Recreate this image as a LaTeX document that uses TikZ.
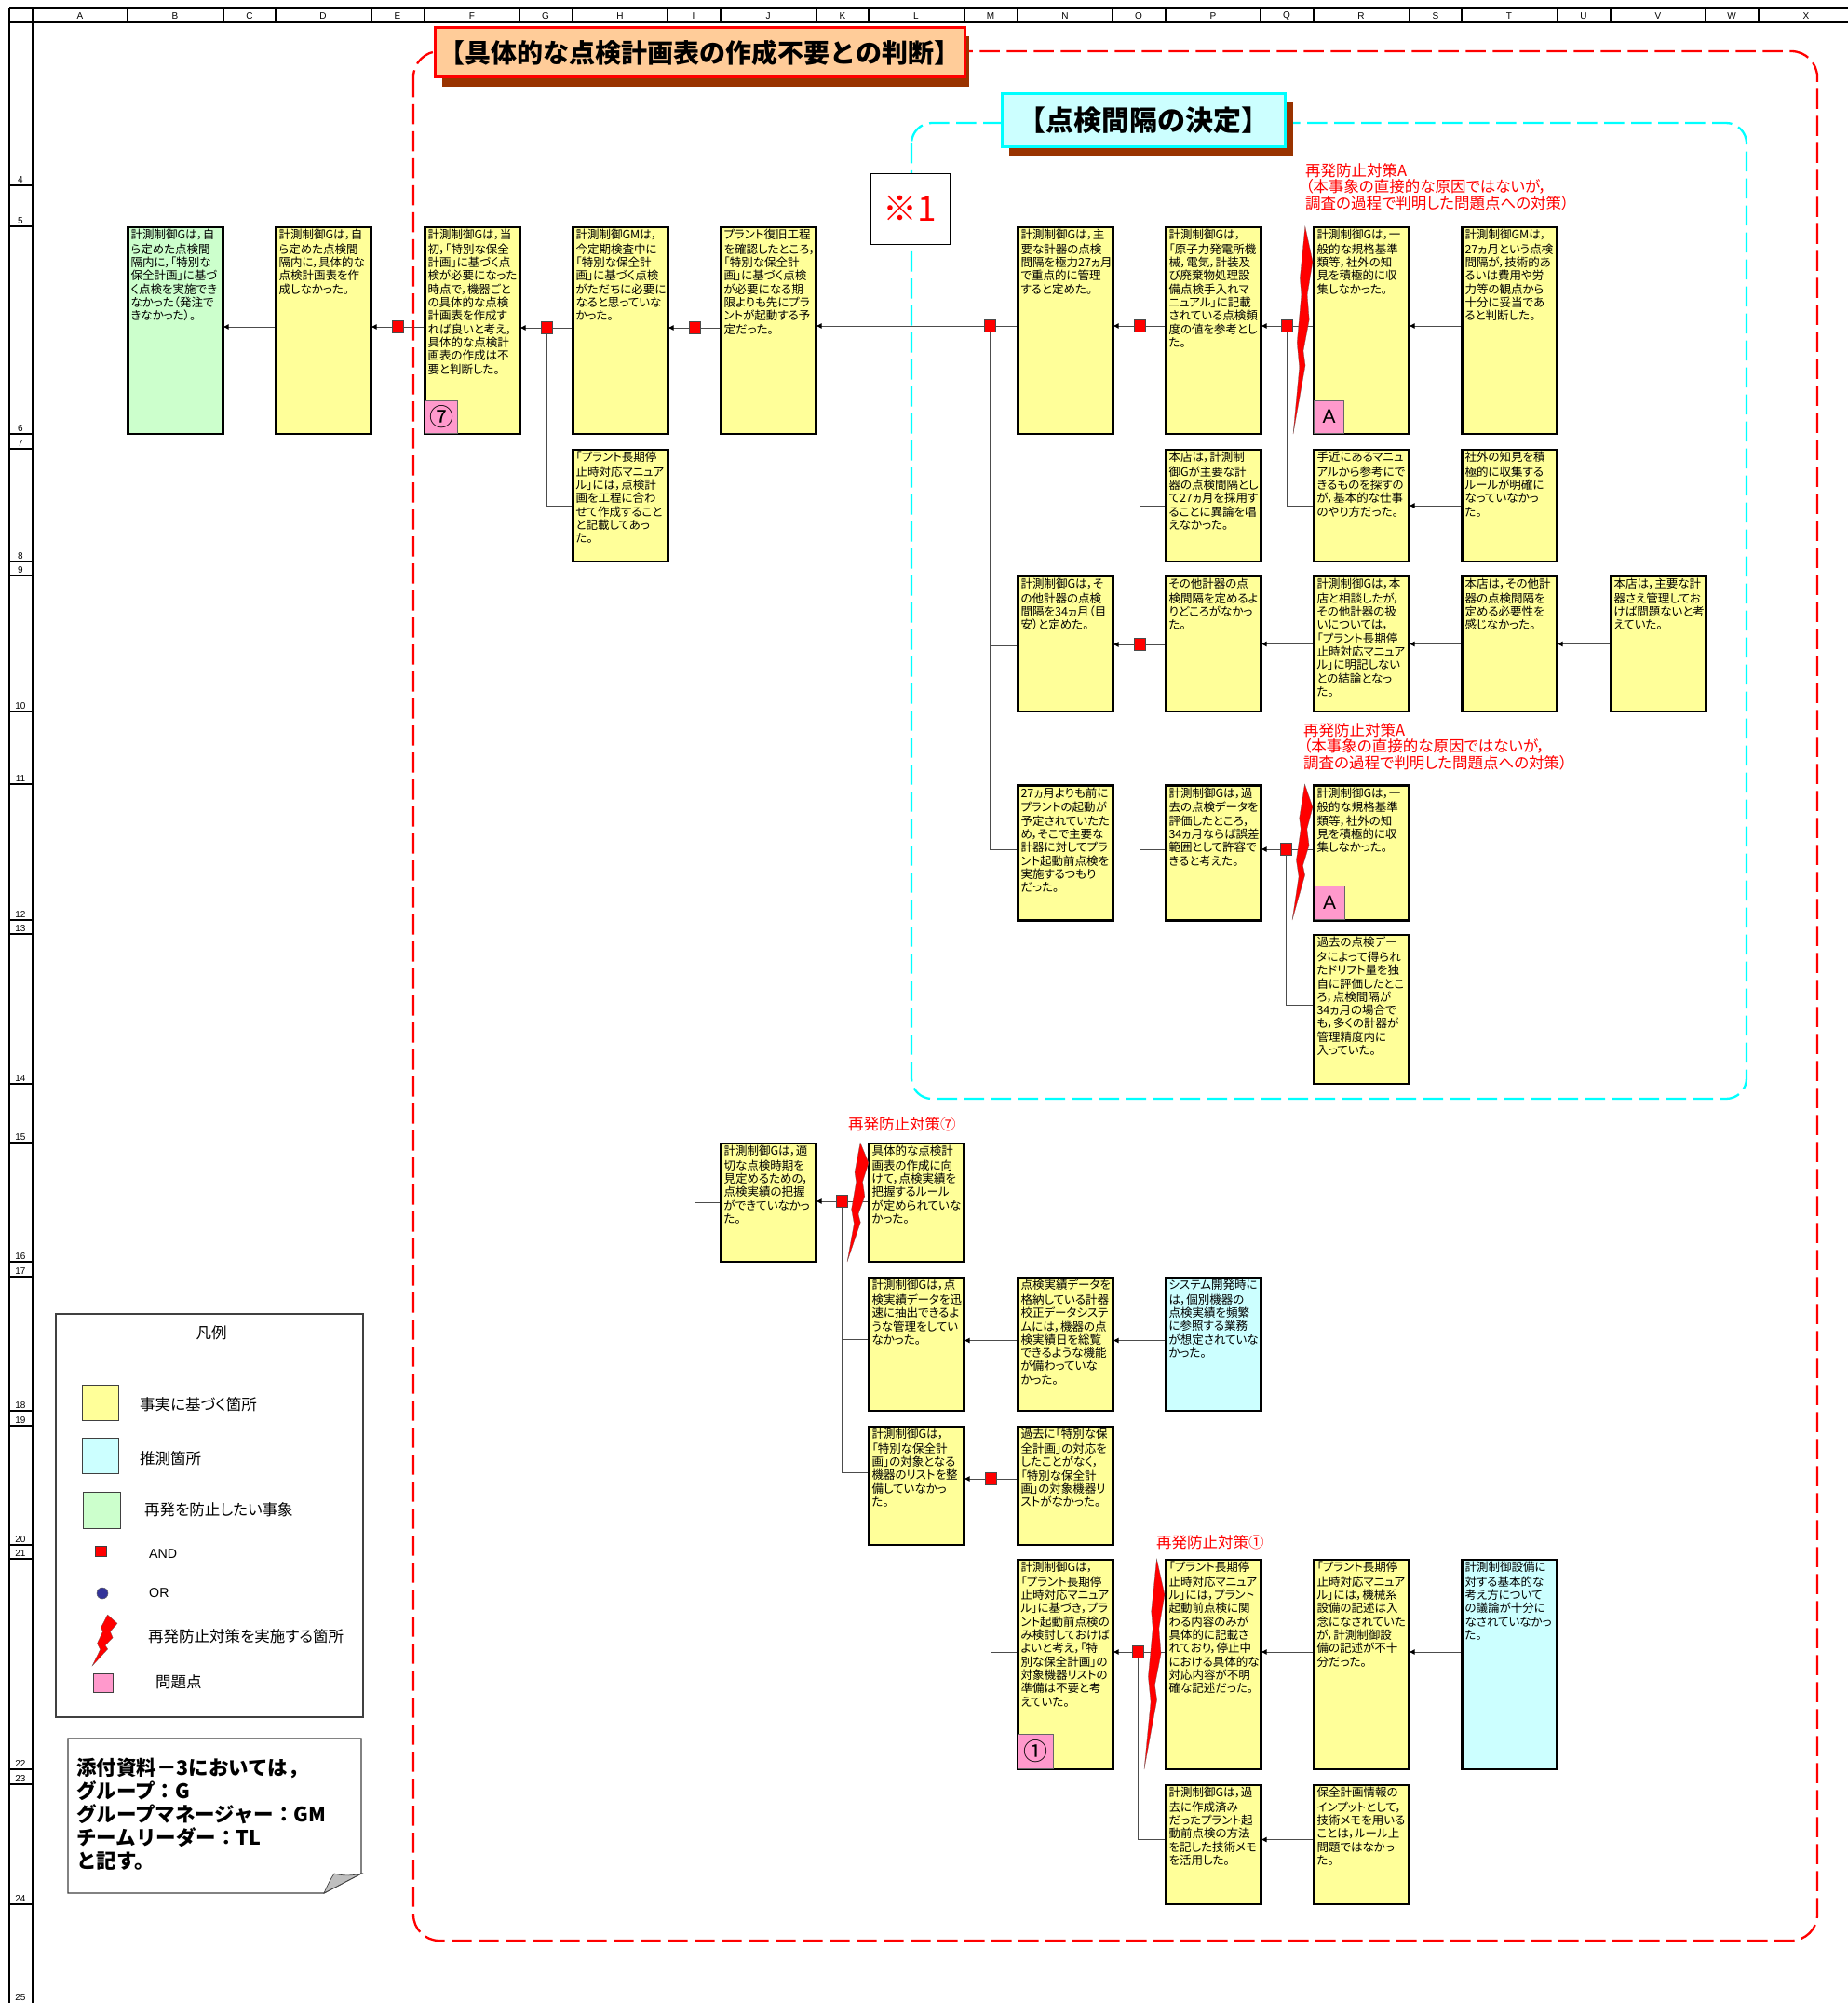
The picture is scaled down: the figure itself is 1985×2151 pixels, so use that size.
\documentclass[tikz,border=0pt]{standalone}
\usepackage{fontspec}
\setmainfont[RawFeature={+palt}]{Noto Sans CJK JP}
\newfontfamily\plainjp{Noto Sans CJK JP}
\newfontfamily\arialfont{Liberation Sans}
\usetikzlibrary{backgrounds,arrows.meta}
\definecolor{fy}{HTML}{FFFF99}
\definecolor{fc}{HTML}{CCFFFF}
\definecolor{fg}{HTML}{CCFFCC}
\definecolor{fp}{HTML}{FF99CC}
\definecolor{fb}{HTML}{993300}
\definecolor{fo}{HTML}{FFCC99}
\definecolor{fn}{HTML}{333399}
\definecolor{pcyan}{HTML}{00FFFF}
\definecolor{pred}{HTML}{FF0000}
\newcommand\bodyfont{\fontsize{12.5}{14.3}\selectfont}
\tikzset{
  boxbase/.style={draw=black,line width=2.2pt,inner xsep=3pt,inner ysep=2pt,outer sep=0pt,anchor=north west,font=\bodyfont},
  fact/.style={boxbase,fill=fy},
  guess/.style={boxbase,fill=fc},
  event/.style={boxbase,fill=fg},
  andgate/.style={draw=black!70,line width=.6pt,fill=pred,minimum width=12pt,minimum height=13pt,inner sep=0pt,outer sep=0pt},
  conn/.style={draw=black!70,line width=1pt},
  arr/.style={conn,-{Latex[length=6pt,width=6pt,black]}},
  badge/.style={draw=black!60,line width=.6pt,fill=fp,inner sep=0pt,outer sep=0pt,anchor=north west},
  bolt/.style={fill=pred,draw=black!60,line width=.25pt,line join=miter},
  note/.style={text=pred,font=\fontsize{16.5}{17.6}\selectfont,align=left,inner sep=0pt,anchor=north west},
  legendtxt/.style={font=\fontsize{16.5}{18}\selectfont,inner sep=0pt,anchor=west},
  gridline/.style={draw=black,line width=1.5pt},
  hdr/.style={font=\arialfont\fontsize{10}{11}\selectfont,inner sep=0pt},
}
\newcommand\bx[6]{\node[#2,minimum width=102pt,minimum height=#5pt+1pt,xshift=-.5pt] (#1) at (#3,#4)
  {\parbox[c][\dimexpr#5pt-3pt\relax][t]{96pt}{\raggedright\strut #6}};}
\newcommand\boltshape[4]{\begin{scope}[shift={(#1,#2)},x=#3pt,y=-#4pt]
  \draw[bolt] (.61,0)--(1,.17)--(.72,.33)--(.82,.45)--(.52,.6)--(.62,.67)--(0,1)--(.32,.68)--(.2,.56)--(.42,.33)--(.35,.25)--cycle;
\end{scope}}
\begin{document}
\begin{tikzpicture}[x=1pt,y=-1pt]
\useasboundingbox (0,0) rectangle (1985,2151);
% grid
\draw[gridline] (10,9)--(1985,9) (10,24)--(1985,24) (10,9)--(10,2151) (35,9)--(35,2151);
\foreach \xa in {137,240,296,399,456,558,615,717,774,877,933,1036,1093,1195,1252,1354,1411,1514,1570,1673,1730,1832,1889}
  \draw[gridline] (\xa,9)--(\xa,24);
\foreach \xa/\la in {86/A,188/B,268/C,347/D,427/E,507/F,586/G,666/H,745/I,825/J,905/K,984/L,1064/M,1144/N,1223/O,1303/P,1382/Q,1462/R,1542/S,1621/T,1701/U,1781/V,1860/W,1940/X}
  \node[hdr] (col\la) at (\xa,17) {\la};
\foreach \ya/\la in {199/4,243/5,466/6,482/7,603/8,618/9,764/10,842/11,988/12,1003/13,1164/14,1227/15,1355/16,1371/17,1515/18,1531/19,1659/20,1674/21,1900/22,1916/23,2045/24}{
  \draw[gridline] (10,\ya)--(35,\ya);
  \node[hdr] (row\la) at (22,\ya-6) {\la};
}
\node[hdr] (row25) at (22,2145) {25};
% titles
\fill[fb] (475,39) rectangle (1041,93);
\node[draw=pred,line width=3pt,fill=fo,inner sep=0pt,outer sep=0pt,minimum width=569pt,minimum height=53pt,anchor=north west,font=\plainjp\bfseries\fontsize{28}{32}\selectfont] (title1) at (467,30) {【具体的な点検計画表の作成不要との判断】};
\fill[fb] (1084,109) rectangle (1389,167);
\node[draw=pcyan,line width=3pt,fill=fc,inner sep=0pt,outer sep=0pt,minimum width=304pt,minimum height=57pt,anchor=north west,font=\plainjp\bfseries\fontsize{30}{34}\selectfont] (title2) at (1076,101) {【点検間隔の決定】};
\node[draw=black,line width=.7pt,fill=white,text=pred,inner sep=0pt,outer sep=0pt,minimum width=85pt,minimum height=76pt,anchor=north west,font=\plainjp\fontsize{37}{40}\selectfont] (mark) at (935,186) {※1};
% boxes row 6
\bx{B6}{event}{138}{244}{221}{計測制御Gは，自\\ら定めた点検間\\隔内に，「特別な\\保全計画」に基づ\\く点検を実施でき\\なかった（発注で\\きなかった）。}
\bx{D6}{fact}{297}{244}{221}{計測制御Gは，自\\ら定めた点検間\\隔内に，具体的な\\点検計画表を作\\成しなかった。}
\bx{F6}{fact}{457}{244}{221}{計測制御Gは，当\\初，「特別な保全\\計画」に基づく点\\検が必要になった\\時点で，機器ごと\\の具体的な点検\\計画表を作成す\\れば良いと考え，\\具体的な点検計\\画表の作成は不\\要と判断した。}
\bx{H6}{fact}{616}{244}{221}{計測制御GMは，\\今定期検査中に\\「特別な保全計\\画」に基づく点検\\がただちに必要に\\なると思っていな\\かった。}
\bx{J6}{fact}{775}{244}{221}{プラント復旧工程\\を確認したところ，\\「特別な保全計\\画」に基づく点検\\が必要になる期\\限よりも先にプラ\\ントが起動する予\\定だった。}
\bx{N6}{fact}{1094}{244}{221}{計測制御Gは，主\\要な計器の点検\\間隔を極力27ヵ月\\で重点的に管理\\すると定めた。}
\bx{P6}{fact}{1253}{244}{221}{計測制御Gは，\\「原子力発電所機\\械，電気，計装及\\び廃棄物処理設\\備点検手入れマ\\ニュアル」に記載\\されている点検頻\\度の値を参考とし\\た。}
\bx{R6}{fact}{1412}{244}{221}{計測制御Gは，一\\般的な規格基準\\類等，社外の知\\見を積極的に収\\集しなかった。}
\bx{T6}{fact}{1571}{244}{221}{計測制御GMは，\\27ヵ月という点検\\間隔が，技術的あ\\るいは費用や労\\力等の観点から\\十分に妥当であ\\ると判断した。}
% row 8
\bx{H8}{fact}{616}{483}{119}{「プラント長期停\\止時対応マニュア\\ル」には，点検計\\画を工程に合わ\\せて作成すること\\と記載してあっ\\た。}
\bx{P8}{fact}{1253}{483}{119}{本店は，計測制\\御Gが主要な計\\器の点検間隔とし\\て27ヵ月を採用す\\ることに異論を唱\\えなかった。}
\bx{R8}{fact}{1412}{483}{119}{手近にあるマニュ\\アルから参考にで\\きるものを探すの\\が，基本的な仕事\\のやり方だった。}
\bx{T8}{fact}{1571}{483}{119}{社外の知見を積\\極的に収集する\\ルールが明確に\\なっていなかっ\\た。}
% row 10
\bx{N10}{fact}{1094}{619}{144}{計測制御Gは，そ\\の他計器の点検\\間隔を34ヵ月（目\\安）と定めた。}
\bx{P10}{fact}{1253}{619}{144}{その他計器の点\\検間隔を定めるよ\\りどころがなかっ\\た。}
\bx{R10}{fact}{1412}{619}{144}{計測制御Gは，本\\店と相談したが，\\その他計器の扱\\いについては，\\「プラント長期停\\止時対応マニュア\\ル」に明記しない\\との結論となっ\\た。}
\bx{T10}{fact}{1571}{619}{144}{本店は，その他計\\器の点検間隔を\\定める必要性を\\感じなかった。}
\bx{V10}{fact}{1731}{619}{144}{本店は，主要な計\\器さえ管理してお\\けば問題ないと考\\えていた。}
% row 12
\bx{N12}{fact}{1094}{843.5}{144}{27ヵ月よりも前に\\プラントの起動が\\予定されていたた\\め，そこで主要な\\計器に対してプラ\\ント起動前点検を\\実施するつもり\\だった。}
\bx{P12}{fact}{1253}{843.5}{144}{計測制御Gは，過\\去の点検データを\\評価したところ，\\34ヵ月ならば誤差\\範囲として許容で\\きると考えた。}
\bx{R12}{fact}{1412}{843.5}{144}{計測制御Gは，一\\般的な規格基準\\類等，社外の知\\見を積極的に収\\集しなかった。}
\bx{R14}{fact}{1412}{1004}{159}{過去の点検デー\\タによって得られ\\たドリフト量を独\\自に評価したとこ\\ろ，点検間隔が\\34ヵ月の場合で\\も，多くの計器が\\管理精度内に\\入っていた。}
% row 16
\bx{J16}{fact}{775}{1228}{126}{計測制御Gは，適\\切な点検時期を\\見定めるための，\\点検実績の把握\\ができていなかっ\\た。}
\bx{L16}{fact}{934}{1228}{126}{具体的な点検計\\画表の作成に向\\けて，点検実績を\\把握するルール\\が定められていな\\かった。}
% row 18
\bx{L18}{fact}{934}{1372}{142}{計測制御Gは，点\\検実績データを迅\\速に抽出できるよ\\うな管理をしてい\\なかった。}
\bx{N18}{fact}{1094}{1372}{142}{点検実績データを\\格納している計器\\校正データシステ\\ムには，機器の点\\検実績日を総覧\\できるような機能\\が備わっていな\\かった。}
\bx{P18}{guess}{1253}{1372}{142}{システム開発時に\\は，個別機器の\\点検実績を頻繁\\に参照する業務\\が想定されていな\\かった。}
% row 20
\bx{L20}{fact}{934}{1532}{126}{計測制御Gは，\\「特別な保全計\\画」の対象となる\\機器のリストを整\\備していなかっ\\た。}
\bx{N20}{fact}{1094}{1532}{126}{過去に「特別な保\\全計画」の対応を\\したことがなく，\\「特別な保全計\\画」の対象機器リ\\ストがなかった。}
% row 22
\bx{N22}{fact}{1094}{1675}{224}{計測制御Gは，\\「プラント長期停\\止時対応マニュア\\ル」に基づき，プラ\\ント起動前点検の\\み検討しておけば\\よいと考え，「特\\別な保全計画」の\\対象機器リストの\\準備は不要と考\\えていた。}
\bx{P22}{fact}{1253}{1675}{224}{「プラント長期停\\止時対応マニュア\\ル」には，プラント\\起動前点検に関\\わる内容のみが\\具体的に記載さ\\れており，停止中\\における具体的な\\対応内容が不明\\確な記述だった。}
\bx{R22}{fact}{1412}{1675}{224}{「プラント長期停\\止時対応マニュア\\ル」には，機械系\\設備の記述は入\\念になされていた\\が，計測制御設\\備の記述が不十\\分だった。}
\bx{T22}{guess}{1571}{1675}{224}{計測制御設備に\\対する基本的な\\考え方について\\の議論が十分に\\なされていなかっ\\た。}
% row 24
\bx{P24}{fact}{1253}{1917}{127}{計測制御Gは，過\\去に作成済み\\だったプラント起\\動前点検の方法\\を記した技術メモ\\を活用した。}
\bx{R24}{fact}{1412}{1917}{127}{保全計画情報の\\インプットとして，\\技術メモを用いる\\ことは，ルール上\\問題ではなかっ\\た。}
% AND gates
\node[andgate] (aE) at (427,351) {};
\node[andgate] (aG) at (587,352) {};
\node[andgate] (aI) at (746,352) {};
\node[andgate] (aM) at (1063,350) {};
\node[andgate] (aO) at (1224,350) {};
\node[andgate] (aQ) at (1382,350) {};
\node[andgate] (a10) at (1224,692) {};
\node[andgate] (a12) at (1381,912) {};
\node[andgate] (a16) at (904,1290) {};
\node[andgate] (a20) at (1064,1588) {};
\node[andgate] (a22) at (1222,1774) {};
\coordinate (bottomend) at (427,2151);
% connectors and frames under everything
\begin{scope}[on background layer]
\fill[white] (0,0) rectangle (1985,2151);
\draw[arr] (D6.west |- aE) -- (B6.east |- aE);
\draw[conn] (F6.west |- aE) -- (aE);
\draw[arr] (aE) -- (D6.east |- aE);
\draw[conn] (aE) -- (bottomend);
\draw[conn] (H6.west |- aG) -- (aG);
\draw[arr] (aG) -- (F6.east |- aG);
\draw[conn] (aG) |- (H8.west);
\draw[conn] (J6.west |- aI) -- (aI);
\draw[arr] (aI) -- (H6.east |- aI);
\draw[conn] (aI) |- (J16.west);
\draw[conn] (N6.west |- aM) -- (aM);
\draw[arr] (aM) -- (J6.east |- aM);
\draw[conn] (aM) |- ([yshift=-2pt]N10.west);
\draw[conn] (aM) |- ([yshift=3.5pt]N12.west);
\draw[conn] (P6.west |- aO) -- (aO);
\draw[arr] (aO) -- (N6.east |- aO);
\draw[conn] (aO) |- (P8.west);
\draw[conn] (R6.west |- aQ) -- (aQ);
\draw[arr] (aQ) -- (P6.east |- aQ);
\draw[conn] (aQ) |- (R8.west);
\draw[arr] (T6.west |- aQ) -- (R6.east |- aQ);
\draw[arr] (T8.west) -- (R8.east);
\draw[conn] (P10.west |- a10) -- (a10);
\draw[arr] (a10) -- (N10.east |- a10);
\draw[conn] (a10) |- ([yshift=3.5pt]P12.west);
\draw[arr] (R10.west) -- (P10.east);
\draw[arr] (T10.west) -- (R10.east);
\draw[arr] (V10.west) -- (T10.east);
\draw[conn] (R12.west |- a12) -- (a12);
\draw[arr] (a12) -- (P12.east |- a12);
\draw[conn] (a12) |- ([yshift=4.5pt]R14.west);
\draw[conn] (L16.west |- a16) -- (a16);
\draw[arr] (a16) -- (J16.east |- a16);
\draw[conn] (a16) |- ([yshift=5pt]L18.west);
\draw[conn] (a16) |- ([yshift=14pt]L20.west);
\draw[arr] ([yshift=4pt]P18.west) -- ([yshift=4pt]N18.east);
\draw[arr] ([yshift=4pt]N18.west) -- ([yshift=4pt]L18.east);
\draw[conn] (N20.west |- a20) -- (a20);
\draw[arr] (a20) -- (L20.east |- a20);
\draw[conn] (a20) |- (N22.west |- a22);
\draw[conn] (P22.west |- a22) -- (a22);
\draw[arr] (a22) -- (N22.east |- a22);
\draw[conn] (a22) |- ([yshift=5.5pt]P24.west);
\draw[arr] (R22.west |- a22) -- (P22.east |- a22);
\draw[arr] (T22.west |- a22) -- (R22.east |- a22);
\draw[arr] ([yshift=5.5pt]R24.west) -- ([yshift=5.5pt]P24.east);
\draw[pred,line width=2.3pt,dash pattern=on 21.5pt off 7.5pt,rounded corners=28pt] (444,55) rectangle (1952,2084);
\draw[pcyan,line width=2.3pt,dash pattern=on 21.5pt off 7.5pt,rounded corners=22pt] (979,132) rectangle (1876,1180);
\end{scope}
% badges
\node[badge,minimum width=35pt,minimum height=35pt,font=\plainjp\fontsize{26}{28}\selectfont] (b7) at (456.5,430) {⑦};
\node[badge,minimum width=32pt,minimum height=35pt,font=\arialfont\fontsize{21}{24}\selectfont] (bA1) at (1411.5,430) {A};
\node[badge,minimum width=32pt,minimum height=36pt,font=\arialfont\fontsize{21}{24}\selectfont] (bA2) at (1412,951) {A};
\node[badge,minimum width=38pt,minimum height=37pt,font=\plainjp\fontsize{26}{28}\selectfont] (b1) at (1093.5,1862) {①};
% bolts
\boltshape{1389}{243}{21}{223}
\boltshape{1388}{842}{22}{146}
\boltshape{910}{1227}{23}{128}
\boltshape{1229}{1674}{22}{226}
% red notes
\node[note] (n1) at (1402,175) {再発防止対策A\\（本事象の直接的な原因ではないが，\\調査の過程で判明した問題点への対策）};
\node[note] (n2) at (1400,776) {再発防止対策A\\（本事象の直接的な原因ではないが，\\調査の過程で判明した問題点への対策）};
\node[note] (n3) at (911,1199) {再発防止対策⑦};
\node[note] (n4) at (1242,1648) {再発防止対策①};
% legend
\node[draw=black!75,line width=1.2pt,minimum width=330pt,minimum height=433pt,inner sep=0pt,outer sep=0pt,anchor=north west] (legend) at (60,1411) {};
\node[legendtxt,anchor=center] (lgT) at (227,1431) {凡例};
\node[draw=black!75,fill=fy,line width=.7pt,minimum width=39pt,minimum height=38pt,inner sep=0pt,anchor=north west] (lg1) at (88,1487) {};
\node[legendtxt] (lg1t) at (150,1508) {事実に基づく箇所};
\node[draw=black!75,fill=fc,line width=.7pt,minimum width=39pt,minimum height=38pt,inner sep=0pt,anchor=north west] (lg2) at (88,1544) {};
\node[legendtxt] (lg2t) at (150,1566) {推測箇所};
\node[draw=black!75,fill=fg,line width=.7pt,minimum width=40pt,minimum height=39pt,inner sep=0pt,anchor=north west] (lg3) at (89,1602) {};
\node[legendtxt] (lg3t) at (155,1621) {再発を防止したい事象};
\node[draw=black!75,fill=pred,line width=.6pt,minimum width=12pt,minimum height=11pt,inner sep=0pt,anchor=north west] (lg4) at (102,1660) {};
\node[legendtxt,font=\arialfont\fontsize{14.2}{16}\selectfont] (lg4t) at (160,1669) {AND};
\node[draw=black!60,fill=fn,line width=.5pt,circle,minimum size=12pt,inner sep=0pt] (lg5) at (110,1711) {};
\node[legendtxt,font=\arialfont\fontsize{14.2}{16}\selectfont] (lg5t) at (160,1711) {OR};
\boltshape{99}{1734}{27}{55}
\node[legendtxt] (lg6t) at (159,1757) {再発防止対策を実施する箇所};
\node[draw=black!75,fill=fp,line width=.7pt,minimum width=21pt,minimum height=20pt,inner sep=0pt,anchor=north west] (lg7) at (100,1797) {};
\node[legendtxt] (lg7t) at (167,1806) {問題点};
% dog-eared note
\draw[draw=black!75,line width=1.2pt,fill=white] (73,1867) -- (388,1867) -- (388,2012) -- (348,2033) -- (73,2033) -- cycle;
\draw[draw=black!75,line width=.7pt,fill=black!25] (348,2033) .. controls (352,2024) and (355,2018) .. (359,2012) .. controls (370,2015) and (380,2014) .. (388,2012) -- cycle;
\node[font=\plainjp\bfseries\fontsize{21.5}{25}\selectfont,align=left,inner sep=0pt,anchor=north west] (memo) at (82,1888) {添付資料－3においては，\\グループ：G\\グループマネージャー：GM\\チームリーダー：TL\\と記す。};
\end{tikzpicture}
\end{document}
